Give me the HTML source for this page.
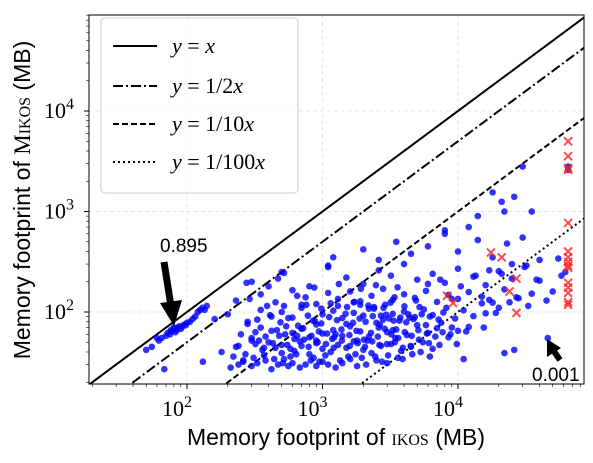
<!DOCTYPE html>
<html><head><meta charset="utf-8"><style>
html,body{margin:0;padding:0;background:#fff;width:593px;height:463px;overflow:hidden;}
svg{display:block;font-family:"Liberation Sans","DejaVu Sans",sans-serif;}
</style></head><body>
<svg id="chart" width="593" height="463" viewBox="0 0 593 463">
<defs><clipPath id="plotclip"><rect x="89" y="15" width="495" height="369"/></clipPath></defs>
<g id="grid"></g>
<g id="refs" clip-path="url(#plotclip)"></g>
<g id="pts" clip-path="url(#plotclip)"></g>
<rect x="89" y="15" width="495" height="369" fill="none" stroke="#000" stroke-width="1"/>
<g id="ticks"></g>
<g>
 <rect x="101" y="18" width="197" height="175" rx="4" fill="#fff" fill-opacity="0.85" stroke="#ccc"/>
 <line x1="113" y1="46" x2="157" y2="46" stroke="#000" stroke-width="2"/>
 <line x1="113" y1="86" x2="157" y2="86" stroke="#000" stroke-width="2" stroke-dasharray="10,3,2,3"/>
 <line x1="113" y1="124" x2="157" y2="124" stroke="#000" stroke-width="2" stroke-dasharray="6,3"/>
 <line x1="113" y1="162" x2="157" y2="162" stroke="#000" stroke-width="2" stroke-dasharray="2,3"/>
 <g font-family="Liberation Serif,serif" font-size="22" fill="#000">
  <text x="172" y="53"><tspan font-style="italic">y</tspan> = <tspan font-style="italic">x</tspan></text>
  <text x="172" y="93"><tspan font-style="italic">y</tspan> = 1/2<tspan font-style="italic">x</tspan></text>
  <text x="172" y="131"><tspan font-style="italic">y</tspan> = 1/10<tspan font-style="italic">x</tspan></text>
  <text x="172" y="169"><tspan font-style="italic">y</tspan> = 1/100<tspan font-style="italic">x</tspan></text>
 </g>
</g>
<g>
 <text x="160" y="252" font-size="19" fill="#000">0.895</text>
 <line x1="164" y1="262" x2="171" y2="306" stroke="#000" stroke-width="7"/>
 <polygon points="160,303 182,300 174,326" fill="#000"/>
</g>
<g>
 <text x="532" y="381" font-size="19" fill="#000">0.001</text>
 <line x1="560" y1="360" x2="553" y2="350" stroke="#000" stroke-width="6"/>
 <polygon points="547,339 547,357 561,348" fill="#000"/>
</g>
<text x="336" y="445" text-anchor="middle" font-size="23" fill="#000">Memory footprint of <tspan font-family="Liberation Serif,serif" style="font-variant:small-caps">ikos</tspan> (MB)</text>
<text transform="translate(30,200) rotate(-90)" text-anchor="middle" font-size="23" fill="#000">Memory footprint of <tspan font-family="Liberation Serif,serif" style="font-variant:small-caps">Mikos</tspan> (MB)</text>
</svg>
<script>
const xTickExps = [2, 3, 4];
const yTickExps = [2, 3, 4];
const refSlopes = [1, 0.5, 0.1, 0.01];
const refDashes = ["", "10,3,2,3", "6,3", "2,3"];
const blueX = [55,62,65,70,72,75,78,80,82,85,88,90,95,100,105,110,115,120,125,130,135,140,80,76,84,92,98,60,50,68,131,
210,240,260,300,330,380,420,470,520,560,600,680,750,820,900,1000,1100,1250,1400,1600,1800,2100,2500,3000,3600,
180,230,270,320,360,400,450,500,550,620,700,800,900,1000,1150,1300,1500,1700,2000,2300,2700,3200,3800,4500,5500,6500,
250,300,350,420,480,540,600,700,800,900,1000,1200,1400,1600,1900,2200,2600,3000,3500,4200,5000,6000,7000,8500,10000,12000,
160,200,280,350,420,500,600,700,850,1000,1200,1400,1700,2000,2400,2800,3300,4000,4800,5600,6500,7800,9500,11000,13000,16000,20000,
230,350,450,600,750,900,1100,1300,1600,1900,2300,2800,3300,4000,4800,5800,7000,8500,10000,12000,15000,18000,22000,28000,35000,45000,
300,500,800,1100,1500,2000,2600,3200,4000,5000,6500,8000,10000,13000,16000,20000,25000,32000,40000,
1200,2000,2600,3500,4500,6000,8000,10000,14000,18000,23000,30000,40000,55000,
275,470,1100,18000,26000,21000,30000,65000,65000,14000,22000,35000,8000,12000,
11000,22000,26000,46000,6200,62000,58000,
1300,1700,2200,2900,3700,4300,1500,2400,3100,900,650,7500,9000,5200,1900,2700,3400,15000,17000,19000,24000,27000,33000,38000,50000,
700,1250,1800,2500,3300,4400,5800,7700,9800,290,390,520,
220,260,310,340,370,440,510,580,640,730,860,950,1050,1180,1350,1550,1750,1950,2150,2450,2750,3050,3450,3900,4600,5300,
280,330,410,490,560,660,780,880,980,1120,1280,1480,1680,1880,2080,2350,2650,2950,3350,3750,4150,4700,5400,6200,7200,8200,
320,380,460,530,620,720,830,940,1080,1220,1380,1580,1780,2020,2280,2560,2880,3220,3620,4050,4550,5100,5900,6800,9000,11500,
400,520,650,760,870,980,1150,1320,1520,1720,1920,2180,2480,2820,3180,3580,4020,4900,6000,7400,10500,13500,17000,21000,25000,31000,
240,300,370,430,500,580,680,790,920,1060,1210,1390,1590,1820,2060,2330,2630,2990,3420,3920,4480,5150,6100,7300,8800,15500];
const blueY = [45,52,55,58,62,60,65,68,63,70,72,68,75,78,80,85,90,100,105,110,105,115,70,66,66,71,74,55,42,27,32,
28,30,32,29,31,33,27,30,34,29,31,28,30,33,29,32,30,28,31,34,29,30,33,31,35,
40,45,38,48,42,50,44,39,47,41,46,38,49,43,40,47,44,51,42,39,46,48,41,45,50,43,
60,55,70,65,58,72,62,68,56,75,61,66,58,72,64,57,70,63,67,59,74,62,69,56,65,71,
85,95,80,105,90,100,88,110,82,95,103,87,98,92,108,84,96,101,89,106,93,99,86,104,91,97,110,
130,150,125,165,140,120,155,135,160,128,145,170,132,150,138,162,126,148,135,158,142,124,168,137,152,130,
200,250,180,280,220,190,260,230,300,210,240,195,270,225,185,255,215,290,205,
350,420,330,500,380,450,600,400,520,350,480,550,330,340,
195,215,290,1550,1400,1250,2800,2800,2600,900,1000,1000,650,700,
34,39,42,55,36,250,230,
115,125,108,118,82,95,76,112,86,52,58,78,135,112,118,92,140,122,132,98,125,140,115,210,160,
118,60,52,78,66,88,74,63,48,135,115,245,
36,33,35,52,37,34,31,36,38,53,35,32,37,54,33,36,38,35,52,36,32,37,55,34,38,40,
76,84,93,79,87,73,92,81,77,89,83,96,78,86,80,91,75,94,82,88,79,85,95,90,84,110,
63,57,66,60,54,69,58,64,61,56,67,59,65,53,62,57,68,60,55,63,58,66,61,57,70,64,
180,115,145,118,175,108,122,190,112,126,170,116,185,110,124,176,114,130,190,210,180,230,260,240,300,280,
46,52,44,49,47,43,51,45,50,48,44,52,46,49,45,51,47,48,50,44,46,53,49,47,60,70];
const redX = [65000,65000,65000,65000,65000,65000,65000,65000,65000,65000,65000,65000,65000,65000,65000,17500,21000,8300,9200,27000,24000,27000];
const redY = [5000,3550,2700,2600,770,400,350,315,290,275,195,175,155,125,118,390,350,145,123,215,160,98];

const L = 89, R = 584, T = 15, B = 384;
const X2 = 187, XDEC = 135.5, Y2 = 312, YDEC = 100.5;
function xs(v){ return X2 + (Math.log10(v) - 2) * XDEC; }
function ys(v){ return Y2 - (Math.log10(v) - 2) * YDEC; }
const NS = "http://www.w3.org/2000/svg";
function mk(tag, attrs, parent){ const e = document.createElementNS(NS, tag); for (const k in attrs) e.setAttribute(k, attrs[k]); parent.appendChild(e); return e; }
const grid = document.getElementById('grid'), ticks = document.getElementById('ticks');
const refs = document.getElementById('refs'), pts = document.getElementById('pts');
const xMin = Math.pow(10, 2 + (L - X2) / XDEC), xMax = Math.pow(10, 2 + (R - X2) / XDEC);
const yMin = Math.pow(10, 2 - (B - Y2) / YDEC), yMax = Math.pow(10, 2 + (Y2 - T) / YDEC);

xTickExps.forEach(e => {
  const x = xs(Math.pow(10, e));
  const g = mk('line', {x1:x, y1:T, x2:x, y2:B, stroke:'#ddd', 'stroke-dasharray':'4,3', 'stroke-width':0.8}, grid);
  
  
  const t = mk('line', {x1:x, y1:B, x2:x, y2:B+5, stroke:'#000'}, ticks);
  
  
  const tx = mk('text', {x:x-10, y:B+32, 'font-family':'Liberation Serif,serif', 'font-size':22, 'text-anchor':'middle'}, ticks);
  tx.innerHTML = '10<tspan dy="-9" font-size="16">' + e + '</tspan>';
  
  
});
yTickExps.forEach(e => {
  const y = ys(Math.pow(10, e));
  const g = mk('line', {x1:L, y1:y, x2:R, y2:y, stroke:'#ddd', 'stroke-dasharray':'4,3', 'stroke-width':0.8}, grid);
  
  
  const t = mk('line', {x1:L-5, y1:y, x2:L, y2:y, stroke:'#000'}, ticks);
  
  
  const tx = mk('text', {x:44, y:y+7, 'font-family':'Liberation Serif,serif', 'font-size':22}, ticks);
  tx.innerHTML = '10<tspan dy="-9" font-size="16">' + e + '</tspan>';
  
  
});
for (let d = 1; d <= 4; d++) for (let m = 2; m <= 9; m++) {
  const v = m * Math.pow(10, d);
  if (v > xMin && v < xMax) {
    const x = xs(v);
    const t = mk('line', {x1:x, y1:B, x2:x, y2:B+3, stroke:'#000', 'stroke-width':0.6}, ticks);
    
    
  }
  if (v > yMin && v < yMax) {
    const y = ys(v);
    const t = mk('line', {x1:L-3, y1:y, x2:L, y2:y, stroke:'#000', 'stroke-width':0.6}, ticks);
    
    
  }
}
refSlopes.forEach((s, i) => {
  const a = {x1:xs(xMin), y1:ys(xMin*s), x2:xs(xMax), y2:ys(xMax*s), stroke:'#000', 'stroke-width':2};
  if (refDashes[i]) a['stroke-dasharray'] = refDashes[i];
  const l = mk('line', a, refs);
  
  
});
blueX.forEach((v, i) => {
  const c = mk('circle', {cx:xs(v), cy:ys(blueY[i]), r:3.3, fill:'#0000ff', 'fill-opacity':0.8}, pts);
  
  
});
redX.forEach((v, i) => {
  const x = xs(v), y = ys(redY[i]), d = 4;
  const p = mk('path', {d:`M${x-d},${y-d}L${x+d},${y+d}M${x-d},${y+d}L${x+d},${y-d}`, stroke:'#ff2020', 'stroke-opacity':0.8, 'stroke-width':2}, pts);
  
  
});
</script>
</body></html>
